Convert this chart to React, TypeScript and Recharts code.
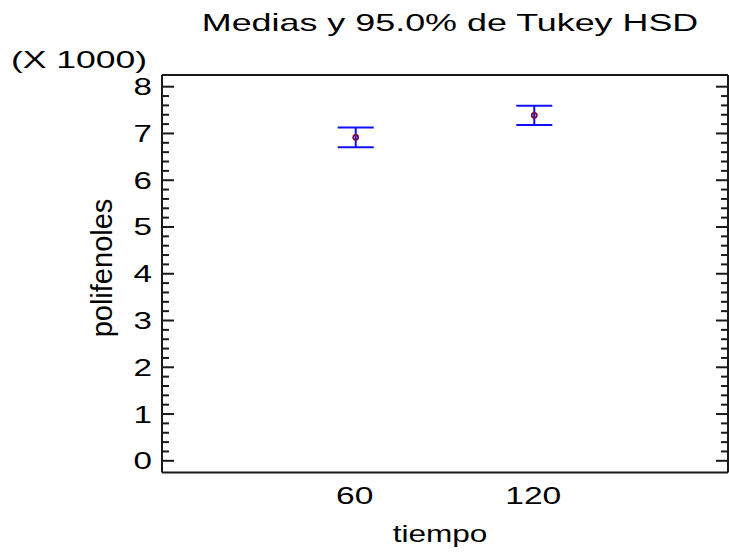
import { ComposedChart, Scatter, ErrorBar, XAxis, YAxis } from 'recharts';

// tiempo levels and Tukey HSD intervals for polifenoles
const categories = ['60', '120'];
const positions = [1, 2];
const means = [6918, 7388];
const halfWidths = [212, 207];

const yMajorTicks = [0, 1000, 2000, 3000, 4000, 5000, 6000, 7000, 8000];
const yMinorStep = 200;

const rows = categories.map((c, i) => ({
  name: c,
  pos: positions[i],
  mean: means[i],
  err: [halfWidths[i], halfWidths[i]],
}));

const yTicks: number[] = [];
for (let v = 0; v <= 8000; v += yMinorStep) yTicks.push(v);

const W = 729;
const H = 552;
const PLOT_LEFT = 162;
const PLOT_RIGHT = 728;
const FONT = "'Liberation Sans', Arial, Helvetica, sans-serif";
const INK = '#000';
const FRAME = { stroke: '#1a1a1a', strokeWidth: 2 };

function StretchText({ x, y, sx = 1, size = 24, anchor = 'middle', rotate = 0, children }: any) {
  return (
    <text
      transform={`translate(${x},${y}) rotate(${rotate}) scale(${sx},1)`}
      textAnchor={anchor}
      fontFamily={FONT}
      fontSize={size}
      fill={INK}
    >
      {children}
    </text>
  );
}

const renderYTick = (props: any) => {
  const { y, payload } = props;
  const major = yMajorTicks.includes(payload.value);
  const len = major ? 12 : 7;
  return (
    <g>
      <line x1={PLOT_LEFT} x2={PLOT_LEFT + len} y1={y} y2={y} stroke="#1a1a1a" strokeWidth={2} />
      <line x1={PLOT_RIGHT} x2={PLOT_RIGHT - len} y1={y} y2={y} stroke="#1a1a1a" strokeWidth={2} />
      {major && (
        <StretchText x={152} y={y + 8.5} sx={1.38} anchor="end">
          {payload.value / 1000}
        </StretchText>
      )}
    </g>
  );
};

const renderXTick = (props: any) => {
  const { x, payload } = props;
  const idx = positions.indexOf(payload.value);
  return (
    <StretchText x={x - 1} y={504} sx={1.4}>
      {categories[idx]}
    </StretchText>
  );
};

const renderMarker = (props: any) => {
  const { cx, cy } = props;
  return <circle cx={cx} cy={cy} r={2.5} fill="none" stroke="#7a0a3c" strokeWidth={1.8} />;
};

const TitleBlock = () => (
  <g>
    <StretchText x={450} y={31} sx={1.495}>
      Medias y 95.0% de Tukey HSD
    </StretchText>
    <StretchText x={11} y={68} sx={1.48} anchor="start">
      (X 1000)
    </StretchText>
  </g>
);

export default function App() {
  return (
    <div style={{ position: 'absolute', left: 0, top: 0, width: W, height: H, background: '#fff' }}>
      <ComposedChart width={W} height={H} data={rows} margin={{ top: 74, right: W - PLOT_RIGHT - 1, bottom: 0, left: 0 }}>
        <XAxis
          xAxisId="b"
          type="number"
          dataKey="pos"
          domain={[-0.085, 3.085]}
          ticks={positions}
          interval={0}
          height={79.5}
          axisLine={FRAME}
          tickLine={false}
          tick={renderXTick}
          label={{
            content: () => (
              <StretchText x={440} y={542} sx={1.315}>
                tiempo
              </StretchText>
            ),
          }}
        />
        <XAxis
          xAxisId="t"
          orientation="top"
          type="number"
          dataKey="pos"
          domain={[-0.085, 3.085]}
          height={1}
          axisLine={FRAME}
          tickLine={false}
          tick={false}
          label={{ content: () => <TitleBlock /> }}
        />
        <YAxis
          yAxisId="l"
          type="number"
          domain={[-250, 8250]}
          ticks={yTicks}
          interval={0}
          width={PLOT_LEFT}
          axisLine={FRAME}
          tickLine={false}
          tick={renderYTick}
          label={{
            content: () => (
              <StretchText x={112} y={268} size={29} rotate={-90}>
                polifenoles
              </StretchText>
            ),
          }}
        />
        <YAxis
          yAxisId="r"
          orientation="right"
          type="number"
          domain={[-250, 8250]}
          width={1}
          axisLine={FRAME}
          tickLine={false}
          tick={false}
        />
        <Scatter xAxisId="b" yAxisId="l" dataKey="mean" shape={renderMarker} isAnimationActive={false}>
          <ErrorBar dataKey="err" direction="y" width={18} stroke="#1010ff" strokeWidth={2} isAnimationActive={false} />
        </Scatter>
      </ComposedChart>
    </div>
  );
}
